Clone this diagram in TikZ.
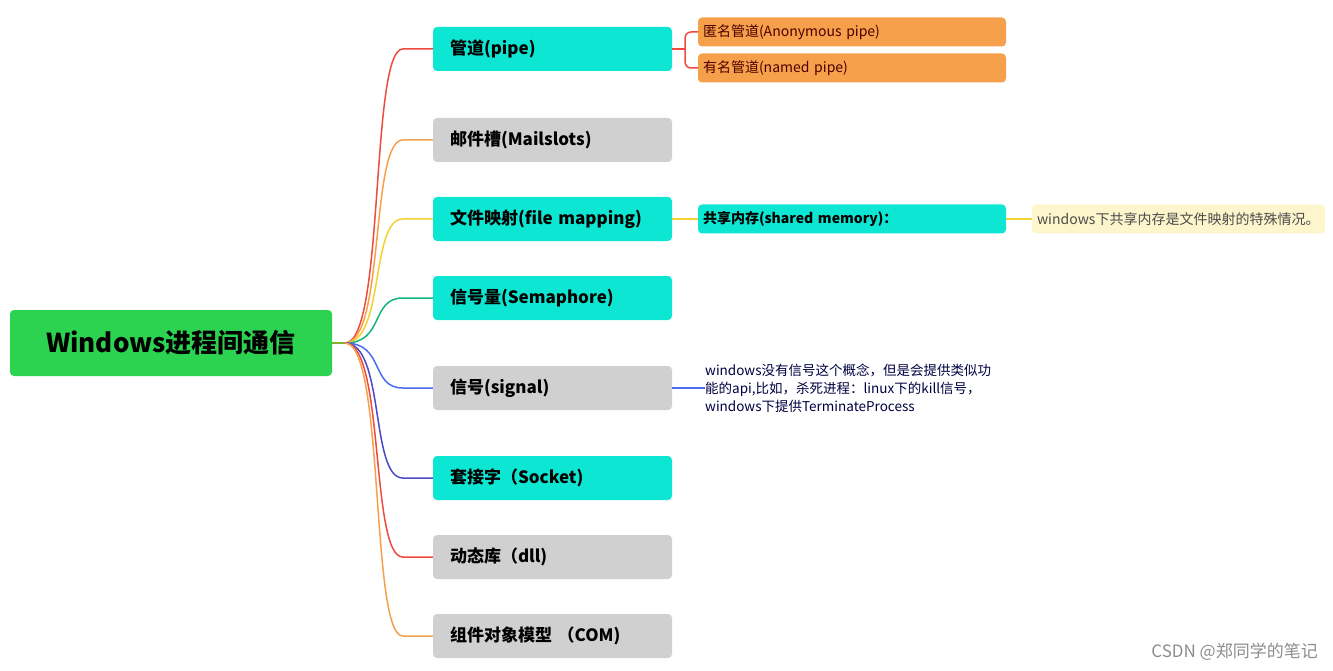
\documentclass[tikz,border=0pt]{standalone}
\usepackage{fontspec}
\setmainfont{Noto Sans CJK SC}
\definecolor{rootgreen}{HTML}{2CD350}
\definecolor{cyanbox}{HTML}{0DE6D2}
\definecolor{greybox}{HTML}{D0D0D0}
\definecolor{orangebox}{HTML}{F7A04B}
\definecolor{notebox}{HTML}{FDF5CC}
\definecolor{cred}{HTML}{EE4B3E}
\definecolor{corange}{HTML}{F7A04B}
\definecolor{cyellow}{HTML}{F2D230}
\definecolor{cgreen}{HTML}{14B47A}
\definecolor{cblue}{HTML}{4A6CF0}
\definecolor{cindigo}{HTML}{4A4AC8}
\begin{document}
\begin{tikzpicture}[x=1pt,y=-1pt,
    every node/.style={inner sep=0pt},
    rootbox/.style={fill=rootgreen, rounded corners=4pt, minimum width=322pt, minimum height=66pt, font=\fontsize{26}{30}\selectfont\bfseries},
    branch/.style={rounded corners=4pt, minimum width=239pt, minimum height=44pt, text width=205pt, align=left, font=\fontsize{17}{20}\selectfont\bfseries},
    leaf/.style={rounded corners=4pt, minimum width=308pt, minimum height=29pt, text width=298pt, align=left, font=\fontsize{14}{16}\selectfont},
    link/.style={line width=1.5pt}]
\useasboundingbox (0,0) rectangle (1333,671);
%-----root
\node[rootbox] (root) at (171,343) {Windows进程间通信};
\coordinate (hub) at (345,343);
\draw[link, color=rootgreen!60!orange] (root.east) -- (hub);
%-----branches
\node[branch, fill=cyanbox] (pipe) at (552.5,49) {管道(pipe)};
\node[branch, fill=greybox] (mail) at (552.5,140) {邮件槽(Mailslots)};
\node[branch, fill=cyanbox] (fmap) at (552.5,219) {文件映射(file mapping)};
\node[branch, fill=cyanbox] (sema) at (552.5,298) {信号量(Semaphore)};
\node[branch, fill=greybox] (sig) at (552.5,388) {信号(signal)};
\node[branch, fill=cyanbox] (sock) at (552.5,478) {套接字（Socket)};
\node[branch, fill=greybox] (dll) at (552.5,557) {动态库（dll)};
\node[branch, fill=greybox] (com) at (552.5,636) {组件对象模型 （COM)};
\foreach \to/\col in {pipe/cred, mail/corange, fmap/cyellow, sema/cgreen, sig/cblue, sock/cindigo, dll/cred, com/corange}
  \draw[link, color=\col] (hub) .. controls (385,343) and (370,0 |- \to.west) .. ([xshift=-30pt]\to.west) -- (\to.west);
%-----pipe leaves
\node[leaf, fill=orangebox, text=black!70!red] (anon) at (852,32) {匿名管道(Anonymous pipe)};
\node[leaf, fill=orangebox, text=black!70!red] (named) at (852,68) {有名管道(named pipe)};
\coordinate (fork) at (685,49);
\draw[link, color=cred] (pipe.east) -- (fork);
\draw[link, color=cred, rounded corners=6pt] (anon.west) -- (fork |- anon.west) -- (fork) -- (fork |- named.west) -- (named.west);
%-----file mapping leaves
\node[leaf, fill=cyanbox, font=\fontsize{14}{16}\selectfont\bfseries] (shm) at (852,219) {共享内存(shared memory)：};
\node[leaf, fill=notebox, minimum width=293pt, text width=283pt, text=black!70] (shmnote) at (1178.5,219) {windows下共享内存是文件映射的特殊情况。};
\draw[link, color=cyellow] (fmap.east) -- (shm.west);
\draw[link, color=cyellow] (shm.east) -- (shmnote.west);
%-----signal note
\node[anchor=west, align=left, font=\fontsize{13.5}{18}\selectfont, text=black!75!blue] (signote) at (705,388) {windows没有信号这个概念，但是会提供类似功\\能的api,比如，杀死进程：linux下的kill信号，\\windows下提供TerminateProcess};
\draw[link, color=cblue] (sig.east) -- (signote.west);
%-----watermark
\node[anchor=east, font=\fontsize{17}{20}\selectfont, text=black!45] (mark) at (1318,652) {CSDN @郑同学的笔记};
\end{tikzpicture}
\end{document}
